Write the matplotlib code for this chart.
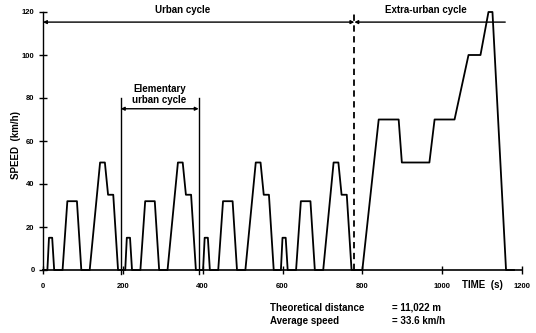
import matplotlib
matplotlib.use("Agg")
import matplotlib.pyplot as plt

plt.rcParams['font.family'] = ['Liberation Sans', 'DejaVu Sans']
plt.rcParams['font.weight'] = 'bold'

# elementary urban cycle (ECE 15), time in s / speed in km/h
ece_time = [0, 11, 15, 23, 28, 49, 61, 85, 96, 117, 143, 155, 163, 176, 188, 195]
ece_speed = [0, 0, 15, 15, 0, 0, 32, 32, 0, 0, 50, 50, 35, 35, 0, 0]
ece_starts = [0, 195, 390, 585]

# extra-urban cycle
eudc_time = [780, 800, 841, 891, 899, 968, 981, 1031, 1066, 1096, 1116, 1126, 1160, 1180]
eudc_speed = [0, 0, 70, 70, 50, 50, 70, 70, 100, 100, 120, 120, 0, 0]

x_ticks = [0, 200, 400, 600, 800, 1000, 1200]
y_ticks = [0, 20, 40, 60, 80, 100, 120]

fig = plt.figure(figsize=(5.36, 3.33), dpi=100)
ax = fig.add_axes([43 / 536, 1 - 270 / 333, 479 / 536, 258 / 333])

for t0 in ece_starts:
    ax.plot([t0 + t for t in ece_time], ece_speed, color='black', lw=1.3,
            clip_on=False)
ax.plot(eudc_time, eudc_speed, color='black', lw=1.3, clip_on=False)

ax.set_xlim(0, 1200)
ax.set_ylim(0, 120)
for side in ('top', 'right'):
    ax.spines[side].set_visible(False)
ax.spines['left'].set_linewidth(1.0)
ax.spines['bottom'].set_linewidth(1.2)
ax.set_xticks(x_ticks)
ax.set_yticks(y_ticks)
ax.tick_params(direction='inout', length=6, width=1.0, labelsize=5.5)
ax.tick_params(axis='x', pad=6)
ax.tick_params(axis='y', pad=3)
for lab in ax.get_xticklabels() + ax.get_yticklabels():
    lab.set_fontweight('bold')

# cycle markers
ax.plot([780, 780], [0, 120], color='black', lw=1.3, ls=(0, (3.5, 2.5)),
        clip_on=False)
arr = dict(arrowstyle='<|-|>', color='black', lw=1.0, mutation_scale=5,
           shrinkA=0, shrinkB=0)
ax.annotate('', xy=(0, 115.3), xytext=(780, 115.3), arrowprops=arr,
            annotation_clip=False)
ax.annotate('', xy=(780, 115.3), xytext=(1158, 115.3),
            arrowprops=dict(arr, arrowstyle='-|>'), annotation_clip=False)
ax.text(350, 120.8, 'Urban cycle', ha='center', va='center', fontsize=7)
ax.text(958, 120.8, 'Extra-urban cycle', ha='center', va='center', fontsize=7)

for t in (195, 390):
    ax.plot([t, t], [-2, 80], color='black', lw=1.0, clip_on=False)
ax.annotate('', xy=(195, 75), xytext=(390, 75), arrowprops=arr)
ax.text(292, 81.5, 'Elementary\nurban cycle', ha='center', va='center',
        fontsize=7, linespacing=1.1)

fig.text(16 / 536, 1 - 145 / 333, 'SPEED  (km/h)', rotation=90, ha='center',
         va='center', fontsize=7)
fig.text(482 / 536, 1 - 285 / 333, 'TIME  (s)', ha='center', va='center',
         fontsize=7)

fig.text(270 / 536, 1 - 308 / 333, 'Theoretical distance', ha='left',
         va='center', fontsize=7)
fig.text(392 / 536, 1 - 308 / 333, '= 11,022 m', ha='left', va='center',
         fontsize=7)
fig.text(270 / 536, 1 - 321 / 333, 'Average speed', ha='left', va='center',
         fontsize=7)
fig.text(392 / 536, 1 - 321 / 333, '= 33.6 km/h', ha='left', va='center',
         fontsize=7)

fig.savefig('out.png', dpi=100)
